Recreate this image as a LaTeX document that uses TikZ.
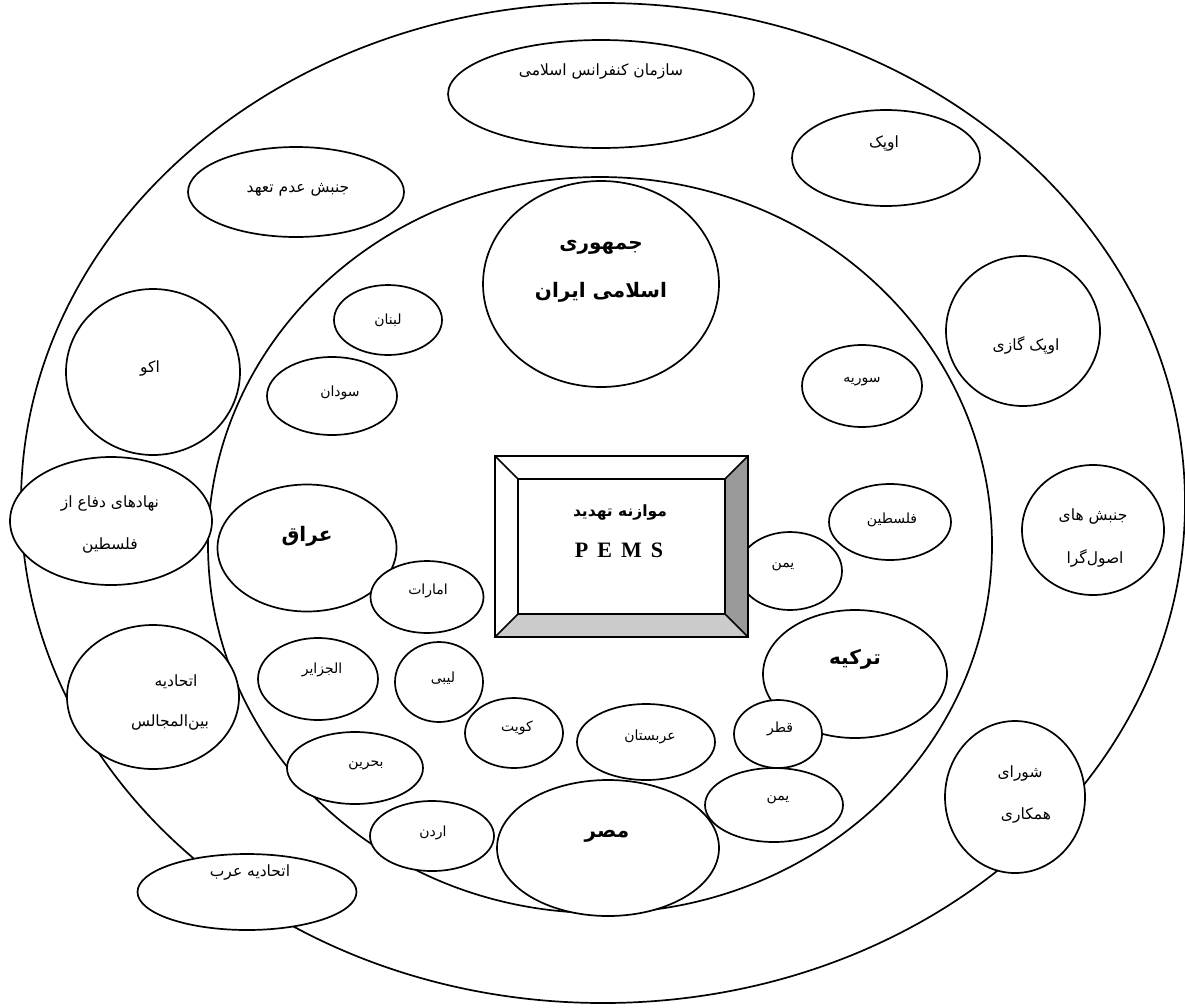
\documentclass[tikz,border=0pt]{standalone}
\usepackage{fontspec}
\usetikzlibrary{shapes.geometric}
\setmainfont{Liberation Serif}
\newfontfamily\arabicfont[Script=Arabic]{DejaVu Sans}
\TeXXeTstate=1
\newcommand{\prs}[1]{\beginR #1\endR}
\definecolor{bevdark}{HTML}{9A9A9A}
\definecolor{bevlight}{HTML}{CBCBCB}
\begin{document}
\begin{tikzpicture}[x=1pt,y=-1pt,
  oval/.style={ellipse, draw, line width=1.7pt, fill=white, inner sep=0pt},
  lbl/.style={font=\arabicfont\fontsize{15.5}{17}\selectfont, inner sep=0pt},
  slbl/.style={font=\arabicfont\fontsize{14}{16}\selectfont, inner sep=0pt},
  blbl/.style={font=\arabicfont\bfseries\fontsize{20}{22}\selectfont, inner sep=0pt},
  bevel/.style={line width=1.7pt, line join=miter}]
\useasboundingbox[fill=white] (0,0) rectangle (1185,1007);
% big rings
\node[oval, minimum width=1164, minimum height=1000] (outer) at (603,503) {};
\node[oval, minimum width=784, minimum height=736] (inner) at (600,545) {};
% outer ring
\node[oval, minimum width=306, minimum height=108] (oic) at (601,94) {};
\node[lbl] (toic) at (601,72) {\prs{سازمان کنفرانس اسلامی}};
\node[oval, minimum width=188, minimum height=96] (opec) at (886,158) {};
\node[lbl] (topec) at (884,143) {\prs{اوپک}};
\node[oval, minimum width=216, minimum height=90] (nam) at (296,192) {};
\node[lbl] (tnam) at (298,190) {\prs{جنبش عدم تعهد}};
\node[oval, minimum width=154, minimum height=150] (gecf) at (1023,331) {};
\node[lbl] (tgecf) at (1026,345) {\prs{اوپک گازی}};
\node[oval, minimum width=174, minimum height=166] (eco) at (153,372) {};
\node[lbl] (teco) at (150,368) {\prs{اکو}};
\node[oval, minimum width=202, minimum height=128] (pdf) at (111,521) {};
\node[lbl] (tpdf1) at (110,503) {\prs{نهادهای دفاع از}};
\node[lbl] (tpdf2) at (110,545) {\prs{فلسطین}};
\node[oval, minimum width=142, minimum height=130] (fund) at (1093,530) {};
\node[lbl] (tfund1) at (1093,516) {\prs{جنبش های}};
\node[lbl] (tfund2) at (1095,558) {\prs{اصول‌گرا}};
\node[oval, minimum width=140, minimum height=152] (gcc) at (1015,797) {};
\node[lbl] (tgcc1) at (1020,773) {\prs{شورای}};
\node[lbl] (tgcc2) at (1026,815) {\prs{همکاری}};
\node[oval, minimum width=172, minimum height=144] (ipu) at (153,697) {};
\node[lbl] (tipu1) at (176,682) {\prs{اتحادیه}};
\node[lbl] (tipu2) at (170,722) {\prs{بین‌المجالس}};
\node[oval, minimum width=219, minimum height=76] (arab) at (247,892) {};
\node[lbl] (tarab) at (250,872) {\prs{اتحادیه عرب}};
% inner ring
\node[oval, minimum width=236, minimum height=206] (iran) at (601,284) {};
\node[blbl] (tiran1) at (601,247) {\prs{جمهوری}};
\node[blbl] (tiran2) at (601,292) {\prs{اسلامی ایران}};
\node[oval, minimum width=108, minimum height=70] (leb) at (388,320) {};
\node[slbl] (tleb) at (388,320) {\prs{لبنان}};
\node[oval, minimum width=130, minimum height=78] (sud) at (332,396) {};
\node[slbl] (tsud) at (340,393) {\prs{سودان}};
\node[oval, minimum width=120, minimum height=82] (syr) at (862,386) {};
\node[slbl] (tsyr) at (862,382) {\prs{سوریه}};
\node[oval, minimum width=122, minimum height=76] (pal) at (890,522) {};
\node[slbl] (tpal) at (892,520) {\prs{فلسطین}};
\node[oval, minimum width=104, minimum height=78] (yem1) at (790,571) {};
\node[slbl] (tyem1) at (783,567) {\prs{یمن}};
\node[oval, minimum width=184, minimum height=128] (tur) at (855,674) {};
\node[blbl] (ttur) at (855,659) {\prs{ترکیه}};
\node[oval, minimum width=179, minimum height=127] (iraq) at (307,548) {};
\node[blbl] (tiraq) at (307,536) {\prs{عراق}};
\node[oval, minimum width=113, minimum height=72] (uae) at (427,597) {};
\node[slbl] (tuae) at (428,591) {\prs{امارات}};
\node[oval, minimum width=120, minimum height=82] (alg) at (318,679) {};
\node[slbl] (talg) at (322,670) {\prs{الجزایر}};
\node[oval, minimum width=88, minimum height=80] (lib) at (439,682) {};
\node[slbl] (tlib) at (443,678) {\prs{لیبی}};
\node[oval, minimum width=98, minimum height=70] (kuw) at (514,733) {};
\node[slbl] (tkuw) at (517,728) {\prs{کویت}};
\node[oval, minimum width=138, minimum height=76] (sau) at (646,742) {};
\node[slbl] (tsau) at (650,737) {\prs{عربستان}};
\node[oval, minimum width=136, minimum height=72] (bah) at (355,768) {};
\node[slbl] (tbah) at (366,765) {\prs{بحرین}};
\node[oval, minimum width=124, minimum height=70] (jor) at (432,836) {};
\node[slbl] (tjor) at (433,833) {\prs{اردن}};
\node[oval, minimum width=222, minimum height=136] (egy) at (608,848) {};
\node[blbl] (tegy) at (607,836) {\prs{مصر}};
\node[oval, minimum width=138, minimum height=74] (yem2) at (774,805) {};
\node[slbl] (tyem2) at (778,800) {\prs{یمن}};
\node[oval, minimum width=88, minimum height=68] (qat) at (778,734) {};
\node[slbl] (tqat) at (780,729) {\prs{قطر}};
% central bevelled box
\coordinate (A) at (495,456); \coordinate (B) at (748,456);
\coordinate (C) at (748,637); \coordinate (D) at (495,637);
\coordinate (a) at (518,479); \coordinate (b) at (725,479);
\coordinate (c) at (725,614); \coordinate (d) at (518,614);
\fill[white] (A) -- (B) -- (C) -- (D) -- cycle;
\fill[bevdark] (B) -- (C) -- (c) -- (b) -- cycle;
\fill[bevlight] (D) -- (C) -- (c) -- (d) -- cycle;
\draw[bevel] (A) -- (B) -- (C) -- (D) -- cycle;
\draw[bevel] (a) -- (b) -- (c) -- (d) -- cycle;
\draw[bevel] (A) -- (a) (B) -- (b) (C) -- (c) (D) -- (d);
\node[font=\arabicfont\bfseries\fontsize{15.5}{17}\selectfont, inner sep=0pt] (tbox) at (620,512) {\prs{موازنه تهدید}};
\node[font=\bfseries\fontsize{22}{24}\selectfont, inner sep=0pt] (pems) at (619,550) {P\hspace{9pt}E\hspace{9pt}M\hspace{9pt}S};
\end{tikzpicture}
\end{document}
